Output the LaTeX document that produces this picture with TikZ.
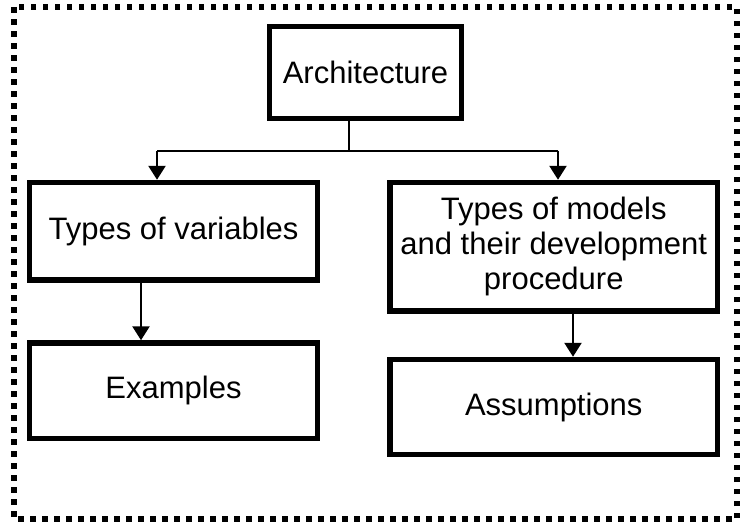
\documentclass[tikz,border=0pt]{standalone}
\usepackage{fontspec}
\setmainfont{Liberation Sans}
\usetikzlibrary{arrows.meta}

\begin{document}
\begin{tikzpicture}[x=1pt,y=-1pt,
  box/.style={draw=black,line width=5.5pt,rectangle,inner sep=0pt,
    align=center,font=\fontsize{31}{35}\selectfont},
  link/.style={draw=black,line width=2pt},
  arr/.style={link,line width=2.5pt,-{Triangle[width=17pt,length=14pt]}},
  frame/.style={draw=black,line width=5.5pt,line cap=butt,
    dash pattern=on 5.5pt off 6.5pt}]
  \useasboundingbox (0,0) rectangle (744,523);

  % outer dotted frame
  \draw[frame] (14,7) rectangle (737,519);

  % boxes
  \node[box,minimum width=192pt,minimum height=92pt] (arch) at (365.5,72.5) {Architecture};
  \node[box,minimum width=288pt,minimum height=97.5pt] (vars) at (173.5,231.25) {Types of variables};
  \node[box,minimum width=288pt,minimum height=95.5pt] (examples) at (173.5,390.75) {Examples};
  \node[box,minimum width=327.5pt,minimum height=128.5pt] (models) at (553.75,246.75)
    {Types of models\\and their development\\procedure};
  \node[box,minimum width=327.5pt,minimum height=95pt] (assum) at (553.75,407) {Assumptions};

  % branching connector
  \coordinate (split) at (349,150.5);
  \coordinate (jl) at (157,150.5);
  \coordinate (jr) at (558,150.5);
  \draw[link] (arch.south -| split) -- (split);
  \draw[link] (jl) -- (jr);
  \draw[arr] (jl) -- (jl |- vars.north);
  \draw[arr] (jr) -- (jr |- models.north);

  % downward arrows
  \coordinate (dl) at (141,0);
  \coordinate (dr) at (573,0);
  \draw[arr] (vars.south -| dl) -- (examples.north -| dl);
  \draw[arr] (models.south -| dr) -- (assum.north -| dr);
\end{tikzpicture}
\end{document}
